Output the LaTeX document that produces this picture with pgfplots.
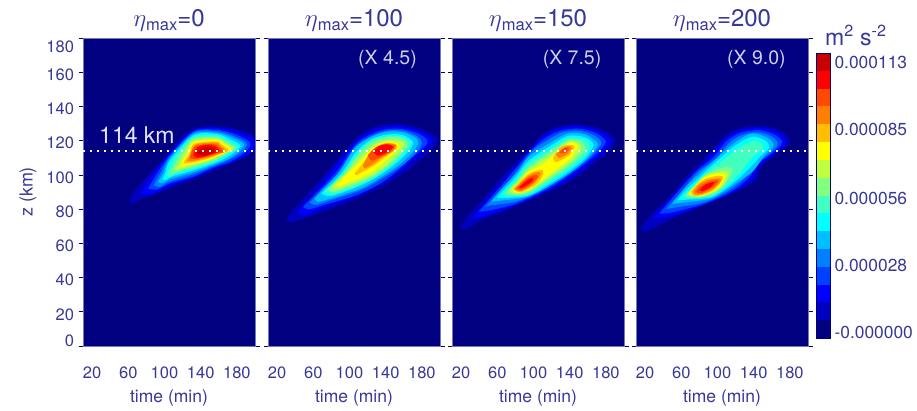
\documentclass[border=0pt]{standalone}
\usepackage{fontspec}
\setmainfont{TeX Gyre Heros}
\usepackage{pgfplots}
\pgfplotsset{compat=1.18}

\definecolor{txt}{RGB}{56,56,152}
\definecolor{edge}{RGB}{120,120,185}
\definecolor{j0}{RGB}{0,0,128}
\definecolor{j1}{RGB}{0,0,191}
\definecolor{j2}{RGB}{0,0,255}
\definecolor{j3}{RGB}{0,64,255}
\definecolor{j4}{RGB}{0,128,255}
\definecolor{j5}{RGB}{0,191,255}
\definecolor{j6}{RGB}{0,255,255}
\definecolor{j7}{RGB}{64,255,191}
\definecolor{j8}{RGB}{128,255,128}
\definecolor{j9}{RGB}{191,255,64}
\definecolor{j10}{RGB}{255,255,0}
\definecolor{j11}{RGB}{255,191,0}
\definecolor{j12}{RGB}{255,128,0}
\definecolor{j13}{RGB}{255,72,0}
\definecolor{j14}{RGB}{255,0,0}
\definecolor{j15}{RGB}{200,0,0}

% one filled contour: level, first point, remaining points
\newcommand{\band}[3]{\addplot[forget plot,draw=none,fill=j#1,smooth] coordinates {#2 #3 #2};}
\newcommand{\fs}[1]{\fontsize{#1}{#1}\selectfont}
\newcommand{\etatitle}[1]{{\fs{26}$\eta$}\raisebox{-3.5pt}{\fs{16.5}max}{\fs{24}=#1}}

\pgfplotsset{
  panel/.style={
    scale only axis,width=172pt,height=308pt,anchor=south west,
    xmin=10,xmax=200,ymin=0,ymax=180,
    xtick={20,60,100,140,180},
    ytick={0,20,...,180},yticklabels={},
    ytick pos=both,tick align=outside,major tick length=4.5pt,
    x tick style={draw=none},y tick style={color=j0,line width=.7pt},
    axis line style={color=edge,line width=.8pt},
    axis background/.style={fill=j0},
    /pgf/number format/assume math mode=true,
    xticklabel style={font=\fs{16.5},text=txt,yshift=-12.5pt},
    xlabel={time (min)},
    xlabel style={font=\fs{17.5},text=txt,at={(axis description cs:0.5,-0.169)},anchor=center},
    title style={font=\fs{24},text=txt,anchor=base,at={(axis description cs:0.5,1)},yshift=5pt},
  },
  level/.style={white,line width=2.2pt,dash pattern=on 2.2pt off 4.8pt,forget plot},
}

\begin{document}
\begin{tikzpicture}
\path[use as bounding box] (0,0) rectangle (917pt,410pt);

\begin{axis}[panel,at={(83pt,64pt)},title={\etatitle{0}}]
\band{1}{(60.9,84.3)}{(69,92.1)(87.5,102.8)(106,113.6)(120.7,123.3)(135.5,127.2)(153.9,128.6)(176,127.2)(194.5,124.3)(202,119.4)(200,114.5)(172.4,106.8)(142.8,99.9)(106,92.1)(76.4,86.3)(63.5,83.4)}
\band{2}{(73.8,89.2)}{(87,100)(105.9,112.6)(131.8,126.2)(157.6,127.4)(180,124.9)(198.9,120)(195,113)(172,106.5)(157.6,104.2)(131.8,98.4)(105.9,93.7)(85,88.5)}
\band{3}{(82,92)}{(92,101)(105.9,111.6)(131.8,125.3)(157.6,126.4)(178,123.8)(194.5,119)(190,113.5)(172,107.5)(157.6,105)(131.8,99)(105.9,95)(92,91.5)}
\band{4}{(88.2,94)}{(96,101.5)(105.9,110.6)(131.8,124.7)(157.6,125.6)(176,122.8)(190.8,118.5)(186,113.5)(170,108.5)(157.6,105.8)(131.8,100.3)(105.9,96)(95,93)}
\band{5}{(93,96)}{(99,101.5)(105.9,109.7)(131.8,123.9)(157.6,124.7)(175,121.8)(187.9,118)(182,113.5)(170,109.2)(157.6,106.5)(131.8,101.5)(105.9,97.5)(98,95)}
\band{6}{(97.5,97.5)}{(101,101)(105.9,108.3)(131.8,123)(157.6,123.9)(173,120.7)(184.2,117.2)(178,113.5)(168,110)(157.6,107.3)(131.8,102.7)(108,99)(102,97)}
\band{7}{(102.3,99)}{(106,104)(112,110.5)(131.8,122)(157.6,122.9)(171,119.7)(181.6,116.5)(175,113.5)(165,110.5)(157.6,108.2)(131.8,103.6)(112,100.8)(106,99)}
\band{8}{(106.7,100.9)}{(111,105.5)(117,111)(131.8,121)(157.6,122)(170,118.8)(178.6,116)(172,113.3)(163,111)(157.6,109)(131.8,104.6)(115,102)(110,101)}
\band{9}{(111.5,102.9)}{(116,107)(121,111.5)(131.8,120)(157.6,121.2)(168,118.5)(176,115.5)(169,113.2)(160,111)(150,108.5)(131.8,105.6)(120,103.8)(114,103)}
\band{10}{(116.3,104.8)}{(120,108)(125,112)(131.8,119)(157.6,120.4)(165,118.3)(173.5,115)(166,112.8)(157.6,110.5)(147,108.3)(131.8,106.6)(123,105.5)(118,104.8)}
\band{11}{(120.7,106.8)}{(124,109.5)(128,113)(133,118.3)(157.6,119.6)(163,117.8)(170.9,114.5)(164,112.8)(157.6,111.3)(147,109.3)(133,107.4)(125,106.8)}
\band{12}{(124.4,108.3)}{(128,111)(133,117.3)(145,118.6)(157.6,118.8)(162,117)(167.9,114)(161,112.5)(157.6,111.9)(147,110)(133,108.3)(127,108)}
\band{13}{(128.1,110)}{(133,116.3)(145,117.8)(155,118)(160,116.5)(165,113.5)(157.6,112.6)(147,110.8)(133,109.2)}
\band{14}{(131.8,111.6)}{(136,116)(145,117.5)(155,117)(161,114)(155,112.5)(145,110.8)(136,110)}
\band{15}{(136,113)}{(141,115.5)(148,116.3)(154,115.5)(156,114)(150,112.3)(143,111.5)(137,111.5)}
\addplot[level] coordinates {(10,114)(200,114)};
\node[anchor=base west,inner sep=0pt,text={rgb,255:red,225;green,225;blue,240},font=\fs{23}] at (axis cs:27.7,118.6) {114 km};
\end{axis}

\begin{axis}[panel,at={(268pt,64pt)},title={\etatitle{100}}]
\band{1}{(30.2,72.7)}{(35.8,78.5)(57.8,91.2)(79.9,104.8)(102,118.4)(116.7,125.2)(135.1,129.1)(157.2,129.5)(179.3,127.2)(195.8,122.3)(197.7,119.4)(186.6,112.6)(164.6,102.9)(142.5,95.1)(113,87.3)(76.2,79.5)(39.4,72.7)}
\band{2}{(43,78.5)}{(61.5,89.2)(83.6,103.8)(105.7,118.4)(120.4,124.3)(138.8,127.8)(157.2,128.2)(175.6,125.8)(190.3,121.4)(190.3,118.4)(175.6,111.6)(157.2,102.9)(135.1,95.1)(105.7,87.3)(72.6,81.4)(50.5,76.5)}
\band{3}{(48.6,81.4)}{(67,91.2)(87.3,102.9)(106.4,117.5)(122.2,123.3)(139.9,126.6)(158.3,126.8)(175.6,124.3)(185.9,120.4)(183.7,116.9)(168.2,109.7)(151.7,101.9)(131.4,94.1)(104.9,87.7)(74.4,82.8)(56,79.9)}
\band{4}{(56,83.8)}{(74.4,94.1)(92.8,103.8)(106.4,116.5)(123,122.3)(141,125.8)(159.8,125.8)(175.6,122.3)(180,118.4)(175.6,114.1)(160.9,106.7)(142.5,99.9)(114.9,91.6)(79.9,85.3)(63.4,82.4)}
\band{5}{(61.5,86.3)}{(87.3,100.9)(105.7,115.5)(124.1,122.3)(142.5,125.3)(160.9,124.7)(175.6,120.4)(171.9,114.5)(157.2,106.7)(138.8,99.9)(113,92.1)(79.9,86.3)(65.2,84.3)}
\band{6}{(68.9,89.2)}{(91,100.9)(107.5,113.6)(124.1,120.8)(142.5,123.7)(159,123.3)(170.1,119.4)(166.4,114.5)(151.7,106.7)(131.4,99)(109.4,93.1)(79.9,87.7)}
\band{7}{(72.6,90.4)}{(92.8,100.9)(109.4,113)(124.8,120)(142.5,122.7)(157.9,122.3)(167.5,118.8)(162.7,114.1)(148,106.4)(128.5,99)(107.5,93.5)(81.8,88.8)}
\band{8}{(76.2,91.6)}{(94.6,100.9)(111.2,112.6)(125.9,119.4)(142.5,121.9)(157.2,121.4)(164.6,118.4)(159,113.6)(144.3,105.8)(125.9,99)(105.7,94.1)(83.6,90.2)}
\band{9}{(79.9,93.1)}{(96.5,100.9)(113,110.6)(127.8,117.8)(142.5,120.4)(155.4,120)(160.9,117.5)(153.5,112.6)(138.8,104.8)(120.4,98.6)(102,94.7)(85.4,91.5)}
\band{10}{(85.4,94.5)}{(100.2,101.9)(114.9,109.7)(127.8,116.5)(142.5,119.4)(152.8,118.4)(155.4,116.5)(148,112.6)(133.3,104.8)(116.7,99.3)(100.2,96)(89.1,93.5)}
\band{11}{(105.7,100.9)}{(116.7,107.7)(127.8,115.1)(140.6,118.8)(151.7,117.8)(151.7,114.9)(142.5,111.6)(127.8,105.8)(114.9,101.9)(107.5,99.9)}
\band{12}{(114.9,105.8)}{(122.2,112.6)(129.6,116.5)(140.6,118.4)(151,117.5)(148,114)(137,110.6)(124.1,105.8)(116.7,103.8)}
\band{13}{(120.4,111.6)}{(129.6,116.1)(140.6,118)(149.8,116.9)(145.4,113.6)(133.3,110.2)(124.1,108.3)}
\band{14}{(125.9,113.6)}{(133.3,116.9)(142.5,117.8)(148,116.1)(140.6,113)(131.4,111.2)}
\addplot[level] coordinates {(10,114)(200,114)};
\node[text={rgb,255:red,205;green,205;blue,230},font=\fs{19.5}] at (axis cs:142,167.7) {(X 4.5)};
\end{axis}

\begin{axis}[panel,at={(452pt,64pt)},title={\etatitle{150}}]
\band{1}{(19.2,69.7)}{(28.4,76.5)(46.8,87.3)(68.9,100.9)(91,112.6)(109.4,123.3)(127.8,128.2)(149.8,129.5)(171.9,127.2)(188.5,122.3)(189.6,118.4)(179.3,111.6)(164.6,105.8)(146.2,98)(120.4,91.2)(83.6,82.4)(46.8,74.6)(24.7,68.2)}
\band{2}{(32.1,74.6)}{(50.5,86.3)(72.6,99.9)(92.8,112.4)(110.1,121.9)(128.5,126.8)(149.8,128.2)(170.1,125.8)(183.7,121.4)(183.7,118.4)(173.8,112.2)(159,105.8)(140.6,98.6)(116.7,91)(79.9,82.3)(46.8,76)}
\band{3}{(39.4,78.5)}{(56,88.5)(76.2,101)(95.4,113)(111.2,120.8)(129.6,125.8)(149.8,127)(168.2,124.7)(179.3,120.4)(178.5,117.5)(168.2,111.6)(153.5,105.2)(137,99)(114.9,91.5)(79.9,83)(50.5,79.1)}
\band{4}{(46.8,81.4)}{(61.5,90)(79.9,101)(98.3,114)(113,119.4)(130.7,124.7)(149.8,125.8)(166.4,123.3)(174.9,119.4)(172.7,116.1)(163.8,111)(149.8,104.8)(133.3,99)(113,92)(81.8,84.5)(56,82.4)}
\band{5}{(53.4,84.3)}{(65.2,92.1)(83,102)(94.6,110.6)(120.4,119.4)(138.8,124.3)(157.2,123.7)(171.2,118.4)(168.2,114.9)(157.2,108.3)(138.8,100.5)(120.4,94.5)(94.6,87.3)(65.2,85)}
\band{6}{(59.7,86.9)}{(65.2,90.2)(80,98.5)(94.6,108.3)(120.4,117.5)(138.8,122.9)(157.2,121.9)(166.4,117.5)(157.2,109.7)(138.8,101.9)(120.4,95.6)(94.6,88)(67,86.5)}
\band{7}{(65.2,88.6)}{(80,96.5)(94.6,106.4)(120.4,115.5)(138.8,121.4)(157.2,120.4)(162,116.9)(157.2,111.6)(138.8,103.4)(120.4,97)(94.6,88.8)(72.6,87.5)}
\band{8}{(69.6,90)}{(82,96.5)(94.6,104.4)(120.4,114)(138.8,120.4)(150,120)(157.2,116.5)(154,112.5)(138.8,105.2)(120.4,98.6)(94.6,89.6)(76.2,88.3)}
\band{9}{(73.3,91.2)}{(84,96.5)(94.6,102.9)(120.4,112.2)(138.8,119.4)(148,119)(152.8,116.1)(148,111.5)(138.8,106.7)(120.4,100)(94.6,90.4)(80,89)}
\band{10}{(76.2,91.7)}{(85,96)(94.6,101.7)(110,106)(120.4,110.6)(138.8,118.4)(145,118.5)(149.1,116.9)(144,112)(138.8,108.7)(120.4,101.3)(105,95)(94.6,91.2)(82,89.5)}
\band{11}{(77.3,91.9)}{(85,96)(94.6,100.5)(104,102.5)(111,102.5)(108,97.5)(100,93.3)(94.6,91.9)(85,89.8)}
\band{11}{(121.5,110)}{(129.6,116.1)(138.8,117.5)(145.4,116.6)(140,111.8)(132,109)(124,107.5)}
\band{12}{(79,91.5)}{(87,96)(94.6,99.5)(103,101.5)(108.5,101)(103,96.5)(94.6,92.7)(85,90.5)}
\band{12}{(124.8,112)}{(132.2,115.7)(138.8,116.8)(142.5,115.7)(137,112)(128.5,110)}
\band{13}{(81,92)}{(88,95.5)(94.6,98.6)(102,100)(105,99)(100,95.8)(94.6,93.5)(86,91.2)}
\band{13}{(128.5,113)}{(135.1,116)(139.5,115.5)(134,112.5)}
\band{14}{(84,92.6)}{(90,95.5)(94.6,97.4)(100,98.3)(98,96)(94.6,94.7)(88,92.5)}
\addplot[level] coordinates {(10,114)(200,114)};
\node[text={rgb,255:red,205;green,205;blue,230},font=\fs{19.5}] at (axis cs:142.6,167.7) {(X 7.5)};
\end{axis}

\begin{axis}[panel,at={(636pt,64pt)},title={\etatitle{200}}]
\band{1}{(15.5,68.8)}{(24.7,75.6)(46.8,87.3)(68.9,100.9)(91,112.6)(107.5,122.3)(124.1,127.2)(146.2,128.6)(166.4,126.6)(179.3,121.4)(178.5,117.5)(166.4,112.6)(148,104.8)(142.5,97)(124.1,91.2)(91,83.4)(54.2,75.6)(21,66.8)}
\band{2}{(28.4,74.6)}{(48.6,86.3)(71.8,99.9)(92.8,111)(108.6,121)(124.8,125.8)(146.2,127.4)(164.6,125.2)(174.9,121)(173.8,117.5)(162.7,112.6)(145.4,105.2)(138.8,98)(120.4,90.8)(89.1,83.6)(50.5,76)}
\band{3}{(35.8,77.5)}{(54.2,89)(75.5,101.5)(95.4,110.3)(110.1,119.8)(125.9,124.7)(145.4,126.2)(161.6,123.9)(171.2,120)(169,116.5)(159,112.2)(142.5,105.2)(135.1,98.6)(117.5,91)(87.3,83.4)(48.6,77.9)}
\band{4}{(43.1,80.1)}{(59.7,90)(79.2,102)(98.3,109.3)(112.3,118.4)(127,123.3)(144.3,124.9)(159,122.7)(166.4,119)(164.6,115.9)(155.4,111.6)(139.5,105.2)(132.2,99.3)(114.9,91.5)(85.4,84)(54.2,81)}
\band{5}{(49.7,83)}{(65.2,93.1)(80,100.5)(94.6,107.7)(120.4,119.4)(138.8,124.3)(156.1,121.4)(162,118)(160.1,115.1)(151.7,111.2)(138.8,101.9)(120.4,95.1)(94.6,86.5)(65.2,84)}
\band{6}{(56,85.3)}{(65.2,91.2)(80,98.5)(94.6,105.8)(120.4,117.5)(138.8,122.3)(152.8,120)(157.2,117.1)(155.4,114.5)(146.9,110.6)(138.8,105.8)(120.4,96.6)(94.6,87.3)(65.2,85.5)}
\band{7}{(61.5,86.9)}{(72,92.5)(82,98)(94.6,103.8)(120.4,114.5)(138.8,119.8)(149.1,118.4)(150.6,116.1)(143.2,112.2)(138.8,110.6)(120.4,98.6)(94.6,88)(72,86.5)}
\band{8}{(64.5,88.2)}{(75,94)(85,99.5)(94.6,102.3)(108.6,104.5)(116.7,103)(107.5,94)(94.6,88.8)(78,87)(69,87.2)}
\band{9}{(67,89)}{(77,94.7)(87,99.8)(94.6,100.9)(106,102.2)(112.3,100.3)(103.8,92.5)(94.6,89.6)(80,87.5)(70,88)}
\band{10}{(68.9,89.5)}{(78,94.7)(87.3,99.3)(102,100.9)(109.4,99)(100.2,91.7)(94.6,90.6)(83.6,87.5)(72,87.8)}
\band{11}{(70.7,90.2)}{(78.1,94.7)(88,98)(102,99.5)(106.4,98)(96.5,91.5)(81.8,88)(73,88)}
\band{12}{(73.3,90.2)}{(79.9,94.5)(89.1,97)(102,98)(103.8,96.6)(94.6,91.5)(81.8,88.7)(75,88.7)}
\band{13}{(76.2,90.6)}{(82.9,94.1)(91.7,96.2)(100.2,97)(100.2,95.6)(91.7,91.8)(81.8,89.4)(78,89.6)}
\band{14}{(79.9,91.2)}{(87.3,94.5)(96.5,95.8)(92.8,93)(83.6,90.6)}
\addplot[level] coordinates {(10,114)(200,114)};
\node[text={rgb,255:red,205;green,205;blue,230},font=\fs{19.5}] at (axis cs:143,167.7) {(X 9.0)};
\end{axis}

% y tick labels of the first panel: they sit a little off the tick marks
\begin{axis}[scale only axis,width=172pt,height=308pt,anchor=south west,at={(83pt,64pt)},
    xmin=10,xmax=200,ymin=0,ymax=180,xtick=\empty,
    ytick={3.1,18.5,38.5,58.5,78.5,98.5,118.5,138.5,158.5,174.9},
    yticklabels={0,20,40,60,80,100,120,140,160,180},
    major tick length=0pt,axis line style={draw=none},
    yticklabel style={font=\fs{16.5},text=txt,xshift=-5.5pt},
    ylabel={z (km)},
    ylabel style={font=\fs{18},text=txt,at={(axis description cs:-0.32,0.5)},anchor=center},
]
\end{axis}

% colour key
\begin{axis}[scale only axis,width=14pt,height=285pt,anchor=south west,at={(816pt,72pt)},
    xmin=0,xmax=1,ymin=-2.5,ymax=116.8,xtick=\empty,
    ytick={0,28,56,85,113},
    yticklabels={-0.000000,0.000028,0.000056,0.000085,0.000113},
    ytick pos=right,major tick length=0pt,
    axis line style={color=j0,line width=.6pt},axis on top,
    yticklabel style={font=\fs{17.4},text=txt,anchor=west,xshift=1pt},
]
\addplot[fill=j0,draw=none] coordinates {(0,-2.5)(1,-2.5)(1,4.96)(0,4.96)} --cycle;
\addplot[fill=j1,draw=none] coordinates {(0,4.96)(1,4.96)(1,12.41)(0,12.41)} --cycle;
\addplot[fill=j2,draw=none] coordinates {(0,12.41)(1,12.41)(1,19.87)(0,19.87)} --cycle;
\addplot[fill=j3,draw=none] coordinates {(0,19.87)(1,19.87)(1,27.32)(0,27.32)} --cycle;
\addplot[fill=j4,draw=none] coordinates {(0,27.32)(1,27.32)(1,34.78)(0,34.78)} --cycle;
\addplot[fill=j5,draw=none] coordinates {(0,34.78)(1,34.78)(1,42.24)(0,42.24)} --cycle;
\addplot[fill=j6,draw=none] coordinates {(0,42.24)(1,42.24)(1,49.69)(0,49.69)} --cycle;
\addplot[fill=j7,draw=none] coordinates {(0,49.69)(1,49.69)(1,57.15)(0,57.15)} --cycle;
\addplot[fill=j8,draw=none] coordinates {(0,57.15)(1,57.15)(1,64.6)(0,64.6)} --cycle;
\addplot[fill=j9,draw=none] coordinates {(0,64.6)(1,64.6)(1,72.06)(0,72.06)} --cycle;
\addplot[fill=j10,draw=none] coordinates {(0,72.06)(1,72.06)(1,79.52)(0,79.52)} --cycle;
\addplot[fill=j11,draw=none] coordinates {(0,79.52)(1,79.52)(1,86.97)(0,86.97)} --cycle;
\addplot[fill=j12,draw=none] coordinates {(0,86.97)(1,86.97)(1,94.43)(0,94.43)} --cycle;
\addplot[fill=j13,draw=none] coordinates {(0,94.43)(1,94.43)(1,101.88)(0,101.88)} --cycle;
\addplot[fill=j14,draw=none] coordinates {(0,101.88)(1,101.88)(1,109.34)(0,109.34)} --cycle;
\addplot[fill=j15,draw=none] coordinates {(0,109.34)(1,109.34)(1,116.8)(0,116.8)} --cycle;
\end{axis}

\node[anchor=base west,inner sep=0pt,text=txt,font=\fs{23}] at (825pt,364pt) {m\textsuperscript{2} s\textsuperscript{-2}};
\end{tikzpicture}
\end{document}
